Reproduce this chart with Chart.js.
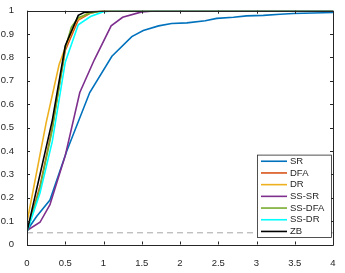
<!DOCTYPE html>
<html><head><meta charset="utf-8">
<script src="https://cdn.jsdelivr.net/npm/chart.js@4/dist/chart.umd.min.js"></script>
<style>html,body{margin:0;padding:0;background:#fff}</style>
</head><body>
<canvas id="c" width="345" height="273" style="display:block;width:345px;height:273px"></canvas>
<script>
// ---- data ----
const seriesNames = ['SR', 'DFA', 'DR', 'SS-SR', 'SS-DFA', 'SS-DR', 'ZB'];
const seriesColors = ['#0072BD', '#D95319', '#EDB120', '#7E2F8E', '#77AC30', '#00FFFF', '#000000'];

const srX = [0, 0.125, 0.3, 0.52, 0.82, 1.11, 1.37, 1.52, 1.72, 1.89, 2.09, 2.33, 2.48, 2.70, 2.87, 3.09, 3.31, 3.48, 4.0];
const srY = [0.06, 0.12, 0.19, 0.40, 0.65, 0.805, 0.889, 0.915, 0.935, 0.945, 0.948, 0.957, 0.967, 0.972, 0.978, 0.98, 0.985, 0.988, 0.992];

const dfaX = [0, 0.17, 0.33, 0.5, 0.67, 0.83, 1.0, 4.0];
const dfaY = [0.055, 0.25, 0.50, 0.83, 0.96, 0.99, 1.0, 1.0];

const drX = [0, 0.25, 0.42, 0.52, 0.65, 0.8, 1.0, 4.0];
const drY = [0.095, 0.52, 0.77, 0.86, 0.96, 0.99, 1.0, 1.0];

const sssrX = [0, 0.17, 0.3, 0.5, 0.69, 0.88, 1.1, 1.25, 1.5, 1.7, 4.0];
const sssrY = [0.06, 0.095, 0.17, 0.38, 0.65, 0.79, 0.935, 0.972, 0.995, 1.0, 1.0];

const ssdfaX = [0, 0.17, 0.33, 0.5, 0.58, 0.67, 0.83, 1.0, 4.0];
const ssdfaY = [0.055, 0.24, 0.49, 0.84, 0.93, 0.97, 0.99, 1.0, 1.0];

const ssdrX = [0, 0.17, 0.33, 0.5, 0.67, 0.83, 1.0, 1.17, 4.0];
const ssdrY = [0.055, 0.22, 0.44, 0.78, 0.94, 0.975, 0.996, 1.0, 1.0];

const zbX = [0, 0.33, 0.5, 0.67, 0.75, 1.0, 4.0];
const zbY = [0.055, 0.53, 0.85, 0.98, 0.993, 1.0, 1.0];

const refLineX = [0, 4];
const refLineY = [0.05, 0.05];

const xTickValues = [0, 0.5, 1, 1.5, 2, 2.5, 3, 3.5, 4];
const yTickValues = [0, 0.1, 0.2, 0.3, 0.4, 0.5, 0.6, 0.7, 0.8, 0.9, 1];

// ---- build datasets ----
const seriesX = [srX, dfaX, drX, sssrX, ssdfaX, ssdrX, zbX];
const seriesY = [srY, dfaY, drY, sssrY, ssdfaY, ssdrY, zbY];
const pairs = (xs, ys) => xs.map((x, i) => ({ x: x, y: ys[i] }));

const datasets = seriesNames.map((name, i) => ({
  label: name,
  data: pairs(seriesX[i], seriesY[i]),
  borderColor: seriesColors[i],
  backgroundColor: seriesColors[i],
  borderWidth: 1.6,
  pointRadius: 0,
  tension: 0,
  fill: false,
  order: seriesNames.length - i,
  inLegend: true
}));
datasets.push({
  label: 'alpha',
  data: pairs(refLineX, refLineY),
  borderColor: '#a6a6a6',
  borderWidth: 1,
  borderDash: [6, 4],
  pointRadius: 0,
  fill: false,
  order: 20,
  inLegend: false
});

const AXC = '#262626';
const FONT = '"Liberation Sans Narrow", "Liberation Sans", Arial, Helvetica, sans-serif';

const boxPlugin = {
  id: 'matlabBox',
  afterDatasetsDraw(chart) {
    const ctx = chart.ctx, a = chart.chartArea;
    const xs = chart.scales.x, ys = chart.scales.y;
    ctx.save();
    ctx.strokeStyle = AXC;
    ctx.lineWidth = 1;
    ctx.beginPath();
    ctx.rect(Math.round(a.left) + 0.5, Math.round(a.top) + 0.5, Math.round(a.right - a.left), Math.round(a.bottom - a.top));
    ctx.stroke();
    const tl = 3;
    ctx.beginPath();
    xTickValues.forEach(v => {
      const px = Math.round(xs.getPixelForValue(v)) + 0.5;
      ctx.moveTo(px, a.bottom); ctx.lineTo(px, a.bottom - tl);
      ctx.moveTo(px, a.top); ctx.lineTo(px, a.top + tl);
    });
    yTickValues.forEach(v => {
      const py = Math.round(ys.getPixelForValue(v)) + 0.5;
      ctx.moveTo(a.left, py); ctx.lineTo(a.left + tl, py);
      ctx.moveTo(a.right, py); ctx.lineTo(a.right - tl, py);
    });
    ctx.stroke();
    ctx.restore();
  },
  afterDraw(chart) {
    const ctx = chart.ctx, a = chart.chartArea;
    const items = chart.data.datasets.filter(d => d.inLegend);
    const rowH = 11.7;
    const w = 74, h = rowH * items.length + 0.5;
    const right = Math.round(a.right) - 2;
    const bottom = Math.round(a.bottom) - 8;
    const left = right - w, top = bottom - h;
    ctx.save();
    ctx.fillStyle = '#fff';
    ctx.fillRect(left, top, w, h);
    ctx.strokeStyle = AXC;
    ctx.lineWidth = 0.8;
    ctx.strokeRect(left + 0.5, top + 0.5, w, h);
    ctx.font = '9.5px ' + FONT;
    ctx.textBaseline = 'middle';
    ctx.textAlign = 'left';
    items.forEach((d, i) => {
      const y = top + rowH * (i + 0.5) + 0.8;
      ctx.strokeStyle = d.borderColor;
      ctx.lineWidth = 1.6;
      ctx.beginPath();
      ctx.moveTo(left + 4, y); ctx.lineTo(left + 30, y);
      ctx.stroke();
      ctx.fillStyle = AXC;
      ctx.fillText(d.label, left + 33, y);
    });
    ctx.restore();
  }
};

new Chart(document.getElementById('c'), {
  type: 'line',
  data: { datasets: datasets },
  options: {
    responsive: false,
    animation: false,
    devicePixelRatio: 1,
    layout: { padding: { top: 5, right: 12, left: 0, bottom: 0 } },
    plugins: { legend: { display: false }, tooltip: { enabled: false } },
    scales: {
      x: {
        type: 'linear', min: 0, max: 4,
        afterBuildTicks: s => { s.ticks = xTickValues.map(v => ({ value: v })); },
        afterFit: s => { s.height = 28.5; },
        grid: { display: false },
        border: { display: false },
        ticks: { padding: 5, color: AXC, font: { family: FONT, size: 9.5 }, maxRotation: 0,
                 callback: v => String(v) }
      },
      y: {
        type: 'linear', min: 0, max: 1,
        afterBuildTicks: s => { s.ticks = yTickValues.map(v => ({ value: v })); },
        afterFit: s => { s.width = 27; },
        grid: { display: false },
        border: { display: false },
        ticks: { padding: 5, color: AXC, font: { family: FONT, size: 9.5 },
                 callback: v => String(Math.round(v * 10) / 10) }
      }
    }
  },
  plugins: [boxPlugin]
});
</script>
</body></html>
